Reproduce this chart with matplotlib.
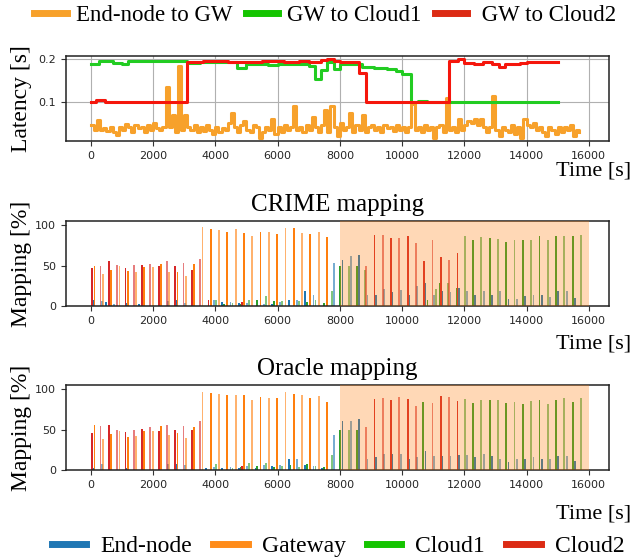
import numpy as np
import matplotlib.pyplot as plt
from matplotlib.lines import Line2D
from matplotlib.colors import to_rgba_array

plt.rcParams['font.family'] = ['Liberation Serif', 'DejaVu Serif']

# --- latency (top panel) ---
cloud1_t = [0, 250, 700, 1000, 1200, 2000, 3100, 3500, 4700, 5000, 5700, 6000,
            7000, 7200, 7400, 7600, 7800, 8000, 8700, 9100, 9500, 9800, 10000,
            10300, 10500, 10800, 15000]
cloud1_v = [0.190, 0.196, 0.192, 0.190, 0.196, 0.197, 0.191, 0.194, 0.180, 0.190,
            0.187, 0.190, 0.185, 0.155, 0.176, 0.194, 0.177, 0.190, 0.183, 0.180,
            0.177, 0.173, 0.165, 0.100, 0.103, 0.100, 0.100]

cloud2_t = [0, 150, 450, 3100, 3300, 3600, 4400, 4700, 5200, 5500, 6200, 6700,
            7000, 7400, 7600, 7800, 8000, 8600, 8850, 11500, 11800, 12000, 12300,
            12600, 12900, 13100, 13300, 13500, 13800, 14000, 15000]
cloud2_v = [0.100, 0.104, 0.100, 0.193, 0.195, 0.197, 0.193, 0.195, 0.193, 0.196,
            0.194, 0.197, 0.195, 0.198, 0.200, 0.196, 0.194, 0.168, 0.100, 0.196,
            0.200, 0.191, 0.189, 0.193, 0.190, 0.181, 0.190, 0.188, 0.191, 0.195,
            0.195]

# end-node to gateway, one sample every 100 s
endnode_v = [
    0.045, 0.035, 0.058, 0.035, 0.038, 0.032, 0.040, 0.030, 0.022, 0.042,
    0.035, 0.048, 0.040, 0.030, 0.045, 0.038, 0.040, 0.028, 0.045, 0.033,
    0.050, 0.038, 0.035, 0.040, 0.135, 0.040, 0.070, 0.030, 0.185, 0.035,
    0.068, 0.040, 0.035, 0.045, 0.030, 0.040, 0.032, 0.045, 0.035, 0.025,
    0.040, 0.028, 0.038, 0.035, 0.050, 0.075, 0.040, 0.030, 0.045, 0.055,
    0.035, 0.030, 0.045, 0.040, 0.015, 0.030, 0.040, 0.035, 0.060, 0.025,
    0.040, 0.030, 0.045, 0.035, 0.040, 0.090, 0.035, 0.040, 0.030, 0.045,
    0.035, 0.065, 0.040, 0.030, 0.045, 0.080, 0.030, 0.090, 0.040, 0.020,
    0.050, 0.035, 0.040, 0.075, 0.030, 0.045, 0.035, 0.070, 0.030, 0.040,
    0.045, 0.035, 0.040, 0.030, 0.045, 0.038, 0.040, 0.032, 0.045, 0.035,
    0.040, 0.030, 0.040, 0.095, 0.035, 0.040, 0.030, 0.045, 0.035, 0.040,
    0.015, 0.040, 0.045, 0.030, 0.110, 0.035, 0.040, 0.030, 0.060, 0.035,
    0.045, 0.055, 0.050, 0.060, 0.045, 0.060, 0.040, 0.030, 0.040, 0.115,
    0.035, 0.020, 0.040, 0.035, 0.030, 0.045, 0.025, 0.040, 0.015, 0.060,
    0.045, 0.040, 0.050, 0.035, 0.040, 0.030, 0.020, 0.040, 0.035, 0.025,
    0.040, 0.030, 0.040, 0.035, 0.045, 0.020, 0.035, 0.030]
endnode_dt = 100

# --- mapping panels, one step every 133.3 s (120 steps) ---
step_dt = 16000 / 120

crime_end = [
    0, 7, 0, 6, 5, 0, 3, 0, 0, 4, 0, 0, 2, 0, 0, 0, 0, 0, 0, 6,
    0, 7, 0, 4, 0, 13, 0, 0, 0, 0, 7, 0, 5, 0, 5, 0, 4, 0, 4, 0,
    0, 0, 3, 0, 3, 0, 5, 0, 7, 0, 8, 0, 18, 0, 14, 0, 0, 0, 0, 53,
    0, 57, 0, 62, 0, 63, 0, 14, 0, 14, 0, 21, 0, 17, 0, 20, 0, 14, 0, 25,
    0, 29, 0, 14, 0, 18, 0, 17, 0, 22, 0, 19, 0, 14, 0, 19, 0, 13, 0, 18,
    0, 9, 0, 9, 0, 12, 0, 13, 0, 14, 0, 11, 0, 19, 0, 18, 0, 10, 0, 0]
crime_gw = [
    0, 50, 0, 39, 0, 44, 0, 50, 0, 43, 0, 42, 0, 48, 0, 48, 0, 52, 0, 42,
    0, 42, 0, 37, 0, 52, 0, 97, 0, 95, 0, 94, 0, 91, 0, 95, 0, 90, 0, 87,
    0, 91, 0, 91, 0, 89, 0, 96, 0, 96, 0, 90, 0, 89, 0, 91, 0, 85, 0, 0,
    0, 0, 0, 0, 0, 0, 0, 0, 0, 0, 0, 0, 0, 0, 0, 0, 0, 0, 0, 0,
    0, 0, 0, 0, 0, 0, 0, 0, 0, 0, 0, 0, 0, 0, 0, 0, 0, 0, 0, 0,
    0, 0, 0, 0, 0, 0, 0, 0, 0, 0, 0, 0, 0, 0, 0, 0, 0, 0, 0, 0]
crime_c1 = [
    0, 0, 0, 0, 0, 0, 0, 0, 0, 0, 0, 0, 0, 0, 0, 0, 0, 0, 0, 0,
    0, 0, 0, 0, 0, 0, 0, 0, 0, 0, 7, 0, 3, 0, 4, 0, 3, 0, 8, 0,
    8, 0, 12, 0, 6, 0, 6, 0, 0, 0, 6, 0, 5, 0, 8, 0, 4, 0, 19, 0,
    50, 0, 50, 0, 50, 0, 45, 0, 0, 0, 0, 0, 0, 0, 0, 0, 0, 0, 0, 0,
    0, 7, 0, 21, 29, 0, 29, 0, 22, 0, 87, 0, 81, 0, 85, 0, 84, 0, 83, 0,
    79, 0, 82, 0, 81, 0, 82, 0, 87, 0, 81, 0, 87, 0, 87, 0, 86, 0, 88, 0]
crime_c2 = [
    47, 0, 50, 0, 55, 0, 51, 0, 47, 0, 51, 0, 51, 0, 52, 0, 49, 0, 56, 0,
    49, 0, 53, 0, 45, 0, 58, 0, 7, 0, 0, 0, 0, 0, 0, 0, 5, 0, 0, 0,
    0, 0, 0, 0, 0, 0, 0, 0, 0, 0, 0, 0, 0, 0, 0, 0, 0, 0, 0, 0,
    0, 0, 0, 0, 0, 0, 50, 0, 88, 0, 88, 0, 84, 0, 84, 0, 86, 0, 78, 0,
    56, 0, 82, 0, 61, 0, 57, 0, 66, 0, 0, 0, 0, 0, 0, 0, 0, 0, 0, 0,
    0, 0, 0, 0, 0, 0, 0, 0, 0, 0, 0, 0, 0, 0, 0, 0, 0, 0, 0, 0]

oracle_end = [
    0, 2, 0, 8, 0, 4, 0, 0, 0, 3, 0, 0, 0, 2, 0, 0, 0, 3, 0, 8,
    0, 7, 0, 6, 0, 4, 0, 0, 2, 0, 4, 0, 3, 0, 4, 0, 3, 0, 5, 0,
    3, 0, 6, 0, 5, 0, 6, 0, 14, 0, 14, 0, 6, 0, 5, 0, 3, 0, 0, 43,
    0, 60, 0, 61, 0, 63, 0, 14, 0, 16, 0, 20, 0, 20, 0, 20, 0, 13, 0, 16,
    0, 24, 0, 17, 0, 17, 0, 17, 0, 19, 0, 19, 0, 16, 0, 20, 0, 17, 0, 14,
    0, 10, 0, 14, 0, 14, 0, 16, 0, 14, 0, 14, 0, 17, 0, 17, 0, 11, 0, 0]
oracle_gw = [
    0, 55, 0, 38, 0, 44, 0, 48, 0, 41, 0, 42, 0, 48, 0, 48, 0, 54, 0, 43,
    0, 46, 0, 39, 0, 53, 0, 96, 0, 95, 0, 94, 0, 93, 0, 93, 0, 93, 0, 86,
    0, 90, 0, 89, 0, 89, 0, 96, 0, 94, 0, 93, 0, 89, 0, 92, 0, 84, 0, 0,
    0, 0, 0, 0, 0, 0, 0, 0, 0, 0, 0, 0, 0, 0, 0, 0, 0, 0, 0, 0,
    0, 0, 0, 0, 0, 0, 0, 0, 0, 0, 0, 0, 0, 0, 0, 0, 0, 0, 0, 0,
    0, 0, 0, 0, 0, 0, 0, 0, 0, 0, 0, 0, 0, 0, 0, 0, 0, 0, 0, 0]
oracle_c1 = [
    0, 0, 0, 0, 0, 0, 0, 0, 0, 0, 0, 0, 0, 0, 0, 0, 0, 0, 0, 0,
    0, 0, 0, 0, 0, 0, 0, 0, 0, 0, 7, 0, 0, 0, 3, 0, 4, 0, 9, 0,
    5, 0, 9, 0, 4, 0, 5, 0, 6, 0, 4, 0, 8, 0, 5, 0, 4, 0, 18, 0,
    50, 0, 50, 0, 49, 0, 0, 0, 0, 0, 0, 0, 0, 0, 0, 0, 0, 0, 0, 0,
    84, 0, 0, 0, 0, 0, 0, 0, 0, 0, 88, 0, 83, 0, 86, 0, 86, 0, 87, 0,
    83, 0, 84, 0, 81, 0, 85, 0, 87, 0, 81, 0, 86, 0, 89, 0, 84, 0, 89, 0]
oracle_c2 = [
    46, 0, 54, 0, 56, 0, 49, 0, 47, 0, 50, 0, 51, 0, 53, 0, 48, 0, 56, 0,
    50, 0, 54, 0, 50, 0, 60, 0, 0, 0, 0, 0, 0, 0, 0, 0, 5, 0, 0, 0,
    0, 0, 0, 0, 0, 0, 0, 0, 0, 0, 0, 0, 0, 0, 0, 0, 0, 0, 0, 0,
    0, 0, 0, 0, 0, 0, 53, 0, 88, 0, 89, 0, 87, 0, 90, 0, 88, 0, 79, 0,
    0, 0, 83, 0, 91, 0, 90, 0, 85, 0, 0, 0, 0, 0, 0, 0, 0, 0, 0, 0,
    0, 0, 0, 0, 0, 0, 0, 0, 0, 0, 0, 0, 0, 0, 0, 0, 0, 0, 0, 0]

shade_start, shade_end = 8000, 16000

bar_colors = ['#1f77b4', '#ff7f0e', '#2ca02c', '#d62728']
legend_colors = ['#1f77b4', '#ff8c1a', '#14c400', '#dc2b14']
line_colors = {'end': '#f7a12b', 'c1': '#22cc22', 'c2': '#f5160c'}

W, H = 632, 559
fig = plt.figure(figsize=(W / 100, H / 100), dpi=100)


def box(left, top, right, bottom):
    return [left / W, 1 - bottom / H, (right - left) / W, (bottom - top) / H]


xlim = (-800, 16650)
tick_kw = dict(labelsize=8, labelfontfamily='DejaVu Sans', labelcolor='#262626',
               length=3.5, width=0.8, color='#333333')


def style(ax):
    ax.set_xlim(*xlim)
    ax.set_xticks(np.arange(0, 16001, 2000))
    ax.tick_params(**tick_kw)
    for s in ax.spines.values():
        s.set_color('#222222')
        s.set_linewidth(1.1)


ax0 = fig.add_axes(box(66, 56, 609, 141))
style(ax0)
ax0.grid(True, color='#b0b0b0', lw=0.8)
ax0.set_axisbelow(True)
ax0.step(np.arange(len(endnode_v)) * endnode_dt, endnode_v, where='post',
         color=line_colors['end'], lw=2.2)
ax0.step(cloud1_t, cloud1_v, where='post', color=line_colors['c1'], lw=2.2)
ax0.step(cloud2_t, cloud2_v, where='post', color=line_colors['c2'], lw=2.2)
ax0.set_ylim(0.008, 0.208)
ax0.set_yticks([0.1, 0.2])
ax0.set_ylabel('Latency [s]', fontsize=17)
ax0.yaxis.set_label_coords(-0.063, 0.5)
ax0.set_xlabel('Time [s]', fontsize=16, ha='right')
ax0.xaxis.set_label_coords(1.04, -0.24)

offsets = [-45, -15, 15, 45]
bar_w = 58


def mapping(ax, series, title, label_y):
    style(ax)
    n = len(series[0])
    t = np.arange(n) * step_dt
    alphas = np.where((np.arange(n) // 2) % 2 == 0, 1.0, 0.6)
    for vals, col, off in zip(series, bar_colors, offsets):
        rgba = to_rgba_array([col] * n)
        rgba[:, 3] = alphas
        ax.bar(t + off, vals, width=bar_w, color=rgba, lw=0, zorder=2)
    ax.axvspan(shade_start, shade_end, color='#ff7f0e', alpha=0.3, lw=0, zorder=3)
    ax.set_ylim(0, 105)
    ax.set_yticks([0, 50, 100])
    ax.set_title(title, fontsize=18, pad=7)
    ax.set_ylabel('Mapping [%]', fontsize=17)
    ax.yaxis.set_label_coords(-0.063, 0.5)
    ax.set_xlabel('Time [s]', fontsize=16, ha='right')
    ax.xaxis.set_label_coords(1.04, label_y)


ax1 = fig.add_axes(box(66, 221, 609, 306))
mapping(ax1, [crime_end, crime_gw, crime_c1, crime_c2], 'CRIME mapping', -0.33)

ax2 = fig.add_axes(box(66, 385, 609, 470))
mapping(ax2, [oracle_end, oracle_gw, oracle_c1, oracle_c2], 'Oracle mapping', -0.41)

top_handles = [Line2D([], [], color=c, lw=5) for c in
               [line_colors['end'], '#14c400', '#dc2b14']]
fig.legend(top_handles, ['End-node to GW', 'GW to Cloud1', ' GW to Cloud2'],
           loc='upper center', bbox_to_anchor=(0.515, 1.028), ncol=3, frameon=False,
           fontsize=16.5, handlelength=1.4, handletextpad=0.4, columnspacing=0.6)

bot_handles = [Line2D([], [], color=c, lw=5) for c in legend_colors]
fig.legend(bot_handles, ['End-node', 'Gateway', 'Cloud1', 'Cloud2'],
           loc='lower center', bbox_to_anchor=(0.535, -0.035), ncol=4, frameon=False,
           fontsize=17, handlelength=1.45, handletextpad=0.6, columnspacing=0.9)

fig.savefig('out.png', dpi=100)
